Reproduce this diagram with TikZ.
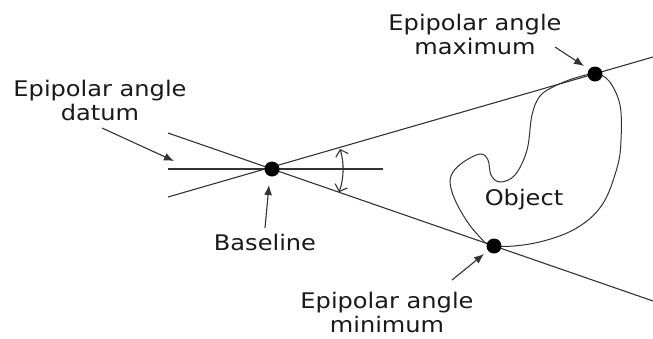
\documentclass[tikz,border=0pt]{standalone}
\usepackage{fontspec}
\setmainfont[FakeStretch=1.12]{DejaVu Sans}
\usetikzlibrary{arrows.meta}
\begin{document}
\begin{tikzpicture}[x=1pt,y=-1pt,
  geo/.style={line width=1.1pt, draw=black!80},
  pointer/.style={line width=1.1pt, draw=black!80, -{Latex[length=10pt,width=8pt]}},
  lbl/.style={align=center, font=\fontsize{21.5}{24}\selectfont, inner sep=0pt, text=black!90},
  dotmark/.style={circle, fill=black, inner sep=0pt, minimum size=15pt}]
\useasboundingbox (0,0) rectangle (653,338);
% key points
\coordinate (B) at (272,169);
\coordinate (Mx) at (595,74);
\coordinate (Mn) at (494,246);
% lines
\coordinate (hL) at (168,169);
\coordinate (hR) at (383,169);
\coordinate (uL) at (168,197);
\coordinate (uR) at (653,57);
\coordinate (dL) at (168,133);
\coordinate (dR) at (653,301);
\draw[geo] (hL) -- (hR);
\draw[geo] (uL) -- (uR);
\draw[geo] (dL) -- (dR);
% angle arc
\draw[geo, {Straight Barb[length=6pt,width=13pt]}-{Straight Barb[length=6pt,width=13pt]}]
  (B) ++(-16.4:71) arc[start angle=-16.4, end angle=19.1, radius=71];
% object
\draw[geo, line width=1pt] plot[smooth cycle, tension=0.6] coordinates {
  (595,74) (609,81) (620,105) (621,140) (617,168) (602,205) (575,229) (535,243)
  (494,246) (478,235) (463,215) (452,192) (451,176) (462,163) (480,154)
  (488,160) (491,175) (500,182) (515,175) (527,150) (532,115) (540,96)
  (555,86) (575,78)};
% dots
\node[dotmark] (dB) at (B) {};
\node[dotmark] (dMx) at (Mx) {};
\node[dotmark] (dMn) at (Mn) {};
% labels
\node[lbl] (datum) at (100,100) {Epipolar angle\\datum};
\node[lbl] (maxl) at (475,34) {Epipolar angle\\maximum};
\node[lbl] (minl) at (387,312) {Epipolar angle\\minimum};
\node[lbl] (base) at (265,242) {Baseline};
\node[lbl] (obj) at (524,200) {Object};
% pointers
\coordinate (a1s) at (102,128); \coordinate (a1e) at (174,161);
\coordinate (a2s) at (265,228); \coordinate (a2e) at (269,185);
\coordinate (a3s) at (555,47);  \coordinate (a3e) at (584,66);
\coordinate (a4s) at (452,280); \coordinate (a4e) at (484,254);
\draw[pointer] (a1s) -- (a1e);
\draw[pointer] (a2s) -- (a2e);
\draw[pointer] (a3s) -- (a3e);
\draw[pointer] (a4s) -- (a4e);
\end{tikzpicture}
\end{document}
